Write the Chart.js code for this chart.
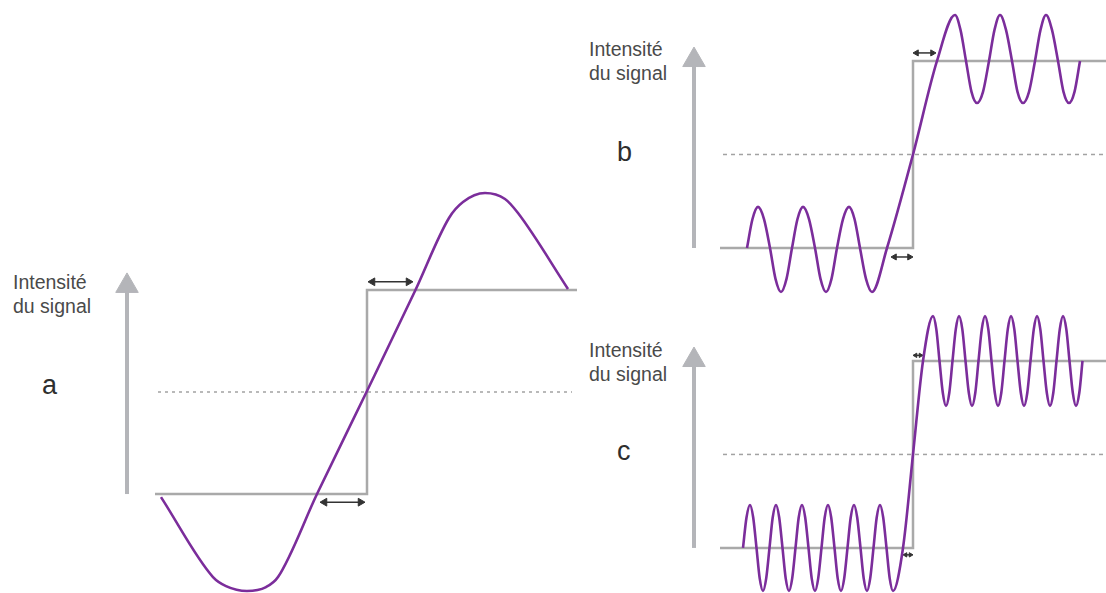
<!DOCTYPE html>
<html>
<head>
<meta charset="utf-8">
<script src="https://cdn.jsdelivr.net/npm/chart.js@4.4.1/dist/chart.umd.min.js"></script>
<style>
  body { margin: 0; background: #fff; width: 1106px; height: 593px; position: relative; overflow: hidden;
         font-family: "Liberation Sans", Arial, sans-serif; }
  canvas { position: absolute; }
  .lbl { position: absolute; font-size: 19.5px; line-height: 24px; color: #4a4a4a; }
  .tag { position: absolute; font-size: 27px; line-height: 1; color: #2e2e2e; }
</style>
</head>
<body>
<div class="lbl" style="left:13px;top:270px">Intensité<br>du signal</div>
<div class="tag" style="left:42px;top:372px">a</div>
<div class="lbl" style="left:589px;top:37px">Intensité<br>du signal</div>
<div class="tag" style="left:617px;top:139px">b</div>
<div class="lbl" style="left:589px;top:338px">Intensité<br>du signal</div>
<div class="tag" style="left:617px;top:438px">c</div>

<canvas id="chartA" width="490" height="423" style="left:110px;top:170px"></canvas>
<canvas id="chartB" width="426" height="300" style="left:680px;top:0px"></canvas>
<canvas id="chartC" width="426" height="293" style="left:680px;top:300px"></canvas>

<script>
const PURPLE = "#7b2d9b";
const STEP_GREY = "#a9a9a9";
const AXIS_GREY = "#b4b5b9";
const DASH_GREY = "#a2a2a2";
const ARROW_DARK = "#333333";

// time (t = 0 at the step), intensity (0 = low level, 1 = high level)
const stepI = [0, 0, 1, 1];
const midI = 0.5;

// panel a
const aWaveT = [-20.6, -15.4, -14.1, -12.0, -10.1, -8.9, -5.0, 0, 4.8, 8.2, 9.6, 11.8, 13.8, 15.1, 20.1];
const aWaveI = [-0.015, -0.407, -0.451, -0.475, -0.456, -0.407, 0, 0.505, 0.995, 1.353, 1.431, 1.475, 1.446, 1.377, 1.005];
const aStepT = [-21.2, 0, 0, 21.0];
const aMidT = [-20.9, 20.5];
const aDelayLow = [-4.25, -0.65];
const aDelayHigh = [0.55, 4.15];

// panel b
const bWaveT = [-16.6, -16.05, -15.5, -14.9, -14.3, -13.75, -13.2, -12.65, -12.1, -11.55, -11.0, -10.4,
                -9.8, -9.25, -8.7, -8.15, -7.6, -7.0, -6.4, -5.85, -5.3, -4.7, -4.1,
                -2.6, 0, 2.4, 4.2,
                4.75, 5.3, 5.85, 6.4, 7.0, 7.6, 8.15, 8.7, 9.3, 9.9, 10.45, 11.0,
                11.6, 12.2, 12.75, 13.3, 13.9, 14.5, 15.05, 15.6, 16.15, 16.7];
const bWaveI = [0, 0.155, 0.22, 0.155, 0, -0.165, -0.235, -0.165, 0, 0.155, 0.22, 0.155,
                0, -0.165, -0.235, -0.165, 0, 0.155, 0.22, 0.155, 0, -0.165, -0.235,
                0, 0.5, 1.0, 1.246,
                1.166, 1.0, 0.835, 0.775, 0.835, 1.0, 1.166, 1.246, 1.166, 1.0, 0.835, 0.775,
                0.835, 1.0, 1.166, 1.246, 1.166, 1.0, 0.835, 0.775, 0.835, 1.0];
const bStepT = [-19.3, 0, 0, 19.3];
const bMidT = [-19.0, 19.3];
const bDelayLow = [-1.85, -0.35];
const bDelayHigh = [0.35, 1.95];

// panel c
const cWaveT = [-17.0, -16.65, -16.3, -15.98, -15.65, -15.33, -15.0, -14.68, -14.35, -14.03,
                -13.7, -13.38, -13.05, -12.73, -12.4, -12.08, -11.75, -11.43, -11.1, -10.78,
                -10.45, -10.13, -9.8, -9.48, -9.15, -8.83, -8.5, -8.18, -7.85, -7.53,
                -7.2, -6.88, -6.55, -6.23, -5.9, -5.58, -5.25, -4.93, -4.6, -4.28,
                -3.95, -3.63, -3.3, -2.98, -2.65, -2.33, -2.0,
                -1.0, 0, 1.0, 2.0,
                2.33, 2.65, 2.98, 3.3, 3.63, 3.95, 4.28, 4.6, 4.93, 5.25,
                5.58, 5.9, 6.23, 6.55, 6.88, 7.2, 7.53, 7.85, 8.18, 8.5,
                8.83, 9.15, 9.48, 9.8, 10.13, 10.45, 10.78, 11.1, 11.43, 11.75,
                12.08, 12.4, 12.73, 13.05, 13.38, 13.7, 14.03, 14.35, 14.68, 15.0,
                15.33, 15.65, 15.98, 16.3, 16.63, 16.95];
const cWaveI = [0, 0.163, 0.23, 0.163, 0, -0.163, -0.23, -0.163, 0, 0.163,
                0.23, 0.163, 0, -0.163, -0.23, -0.163, 0, 0.163, 0.23, 0.163,
                0, -0.163, -0.23, -0.163, 0, 0.163, 0.23, 0.163, 0, -0.163,
                -0.23, -0.163, 0, 0.163, 0.23, 0.163, 0, -0.163, -0.23, -0.163,
                0, 0.163, 0.23, 0.163, 0, -0.163, -0.23,
                0, 0.5, 1.0, 1.24,
                1.17, 1.0, 0.83, 0.76, 0.83, 1.0, 1.17, 1.24, 1.17, 1.0,
                0.83, 0.76, 0.83, 1.0, 1.17, 1.24, 1.17, 1.0, 0.83, 0.76,
                0.83, 1.0, 1.17, 1.24, 1.17, 1.0, 0.83, 0.76, 0.83, 1.0,
                1.17, 1.24, 1.17, 1.0, 0.83, 0.76, 0.83, 1.0, 1.17, 1.24,
                1.17, 1.0, 0.83, 0.76, 0.83, 1.0];
const cStepT = [-19.3, 0, 0, 19.3];
const cMidT = [-19.0, 19.3];
const cDelayLow = [-0.75, -0.25];
const cDelayHigh = [0.25, 0.75];

function pts(ts, is) {
  return ts.map((t, i) => ({ x: t, y: is[i] }));
}

function waveSet(ts, is) {
  return {
    data: pts(ts, is),
    borderColor: PURPLE,
    borderWidth: 2.6,
    pointRadius: 0,
    cubicInterpolationMode: "monotone",
    clip: false,
  };
}

function stepSet(ts) {
  return { data: pts(ts, stepI), borderColor: STEP_GREY, borderWidth: 2.5, pointRadius: 0, tension: 0, clip: false };
}

function midSet(ts, dash) {
  return {
    data: pts(ts, [midI, midI]),
    borderColor: DASH_GREY,
    borderWidth: 1.5,
    borderDash: dash,
    pointRadius: 0,
    clip: false,
  };
}

function axisSet(t, top) {
  return {
    data: [{ x: t, y: 0 }, { x: t, y: top }],
    borderColor: AXIS_GREY,
    borderWidth: 4,
    pointRadius: [0, 13],
    pointStyle: "triangle",
    pointBackgroundColor: AXIS_GREY,
    pointBorderColor: AXIS_GREY,
    pointBorderWidth: 1,
    clip: false,
  };
}

function delaySet(range, level, head) {
  return {
    data: [{ x: range[0], y: level }, { x: range[1], y: level }],
    borderColor: ARROW_DARK,
    borderWidth: 1.5,
    pointRadius: head,
    pointStyle: "triangle",
    pointRotation: [-90, 90],
    pointBackgroundColor: ARROW_DARK,
    pointBorderColor: ARROW_DARK,
    pointBorderWidth: 1,
    clip: false,
  };
}

function makePanel(id, datasets, xMin, xMax, yMin, yMax) {
  return new Chart(document.getElementById(id), {
    type: "line",
    data: { datasets },
    options: {
      responsive: false,
      animation: false,
      events: [],
      layout: { padding: 0, autoPadding: false },
      plugins: { legend: { display: false }, tooltip: { enabled: false } },
      scales: {
        x: { type: "linear", min: xMin, max: xMax, display: false },
        y: { type: "linear", min: yMin, max: yMax, display: false },
      },
    },
  });
}

makePanel("chartA", [
  waveSet(aWaveT, aWaveI),
  delaySet(aDelayLow, -0.04, 4.5),
  delaySet(aDelayHigh, 1.04, 4.5),
  stepSet(aStepT),
  midSet(aMidT, [3, 4]),
  axisSet(-24.0, 1.02),
], -25.7, 23.3, -0.485, 1.588);

makePanel("chartB", [
  waveSet(bWaveT, bWaveI),
  delaySet(bDelayLow, -0.048, 3.5),
  delaySet(bDelayHigh, 1.043, 3.5),
  stepSet(bStepT),
  midSet(bMidT, [4, 4]),
  axisSet(-21.9, 1.005),
], -23.3, 19.3, -0.278, 1.326);

makePanel("chartC", [
  waveSet(cWaveT, cWaveI),
  delaySet(cDelayLow, -0.037, 2.5),
  delaySet(cDelayHigh, 1.03, 2.5),
  stepSet(cStepT),
  midSet(cMidT, [4, 4]),
  axisSet(-21.9, 1.005),
], -23.3, 19.3, -0.241, 1.326);
</script>
</body>
</html>
